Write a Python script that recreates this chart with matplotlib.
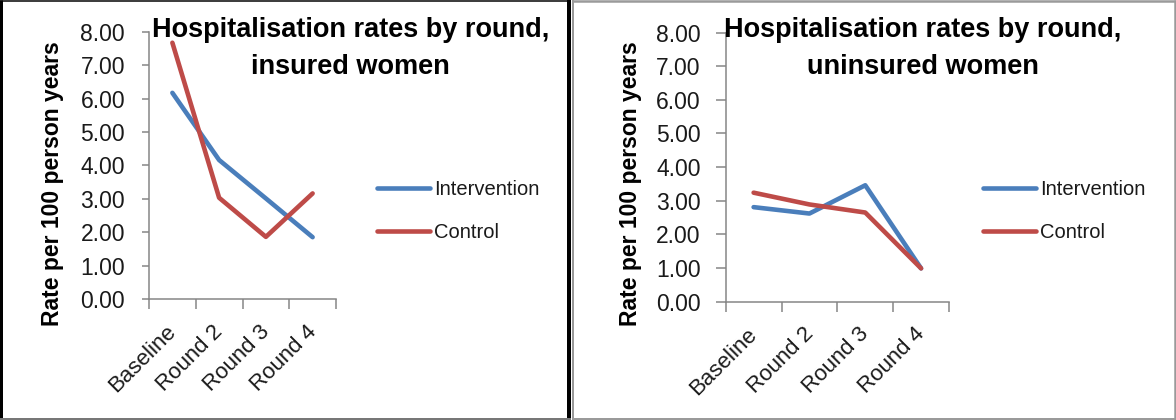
import matplotlib
matplotlib.use("Agg")
import matplotlib.pyplot as plt
import numpy as np
from matplotlib.lines import Line2D
from matplotlib.transforms import ScaledTranslation

# ---------------- data ----------------
categories = ["Baseline", "Round 2", "Round 3", "Round 4"]
series_names = ["Intervention", "Control"]
insured_intervention = [6.17, 4.16, 3.01, 1.85]
insured_control = [7.67, 3.03, 1.86, 3.16]
uninsured_intervention = [2.81, 2.62, 3.46, 0.99]
uninsured_control = [3.24, 2.89, 2.65, 0.99]
y_ticks = [0, 1, 2, 3, 4, 5, 6, 7, 8]
titles = [("Hospitalisation rates by round,", "insured women"),
          ("Hospitalisation rates by round,", "uninsured women")]
y_label = "Rate per 100 person years"

# ---------------- style ----------------
plt.rcParams["font.family"] = ["Liberation Sans", "DejaVu Sans"]
BLUE = "#4A7EBB"
RED = "#BE4B48"
AXC = "#868686"
TXT = "#1a1a1a"

W, H = 1176, 420
fig = plt.figure(figsize=(W / 100, H / 100), dpi=100)
fig.patch.set_facecolor("white")


def fx(px):
    return px / W


def fy(py):
    return 1 - py / H


def pt(px):
    return px * 72 / 100


def panel(x0, x1, y8, y0, inter, ctrl, title, ylab_x, ytick_len, ytick_pad, leg_x):
    ax = fig.add_axes([fx(x0), fy(y0), (x1 - x0) / W, (y0 - y8) / H])
    ax.set_xlim(-0.5, len(categories) - 0.5)
    ax.set_ylim(y_ticks[0], y_ticks[-1])
    for s in ("top", "right"):
        ax.spines[s].set_visible(False)
    for s in ("left", "bottom"):
        ax.spines[s].set_color(AXC)
        ax.spines[s].set_linewidth(1.1)

    xs = np.arange(len(categories))
    ax.plot(xs, inter, color=BLUE, lw=3.3, solid_joinstyle="round",
            solid_capstyle="round", label=series_names[0])
    ax.plot(xs, ctrl, color=RED, lw=3.3, solid_joinstyle="round",
            solid_capstyle="round", label=series_names[1])

    # x: tick marks at category boundaries, labels at centres
    ax.set_xticks(np.arange(-0.5, len(categories), 1.0))
    ax.set_xticklabels([])
    ax.tick_params(axis="x", which="major", length=pt(10), width=1.1,
                   color=AXC, direction="out")
    ax.set_xticks(xs, minor=True)
    ax.set_xticklabels(categories, minor=True, rotation=45, ha="right",
                       va="top", fontsize=16, color=TXT)
    ax.tick_params(axis="x", which="minor", length=0, pad=pt(22))
    for lab in ax.get_xticklabels(minor=True):
        lab.set_transform(lab.get_transform() +
                          ScaledTranslation(pt(8) / 72, 0, fig.dpi_scale_trans))

    ax.set_yticks(y_ticks)
    ax.set_yticklabels(["%.2f" % v for v in y_ticks], fontsize=16.5, color=TXT)
    ax.tick_params(axis="y", length=pt(ytick_len), width=1.1, color=AXC,
                   direction="out", pad=pt(ytick_pad))

    ax.set_ylabel(y_label, fontsize=16.5, fontweight="bold", color="black")
    ax.yaxis.set_label_coords(fx(ylab_x), fy(184), transform=fig.transFigure)
    ax.yaxis.label.set_va("center")

    leg = ax.legend(loc="center left", bbox_to_anchor=(fx(leg_x), fy(211)),
                    bbox_transform=fig.transFigure, frameon=False,
                    fontsize=14.5, handlelength=2.64, handletextpad=0.2,
                    labelspacing=1.2, borderpad=0, borderaxespad=0)
    for t in leg.get_texts():
        t.set_color(TXT)
    return ax


panel(149, 336, 31.7, 299, insured_intervention, insured_control, titles[0],
      53, 7, 17, 377)
panel(725.7, 949, 32.5, 301.7, uninsured_intervention, uninsured_control,
      titles[1], 630, 10, 15, 982.7)

# titles (two lines, placed by baseline)
for (l1, l2), cx in zip(titles, (350.5, 923)):
    fig.text(fx(cx), fy(37), l1, ha="center", va="baseline",
             fontsize=19.5, fontweight="bold", color="black")
    fig.text(fx(cx), fy(74), l2, ha="center", va="baseline",
             fontsize=19.5, fontweight="bold", color="black")


# panel borders
def seg(xa, ya, xb, yb, color, lwpx):
    fig.add_artist(Line2D([fx(xa), fx(xb)], [fy(ya), fy(yb)],
                          transform=fig.transFigure, color=color,
                          lw=pt(lwpx), solid_capstyle="butt"))


seg(1.5, 0, 1.5, 420, "black", 3)
seg(0, 0.7, 570, 0.7, "black", 1.5)
seg(569, 0, 569, 420, "black", 4)
seg(0, 418.5, 571, 418.5, "#777777", 2)
seg(573, 0, 573, 420, "#9a9a9a", 2)
seg(572, 1.2, 1176, 1.2, "#9a9a9a", 2.5)
seg(1174.8, 0, 1174.8, 420, "#9a9a9a", 2.5)
seg(572, 418.5, 1176, 418.5, "#9a9a9a", 2)

fig.savefig("out.png", dpi=100, facecolor="white")
